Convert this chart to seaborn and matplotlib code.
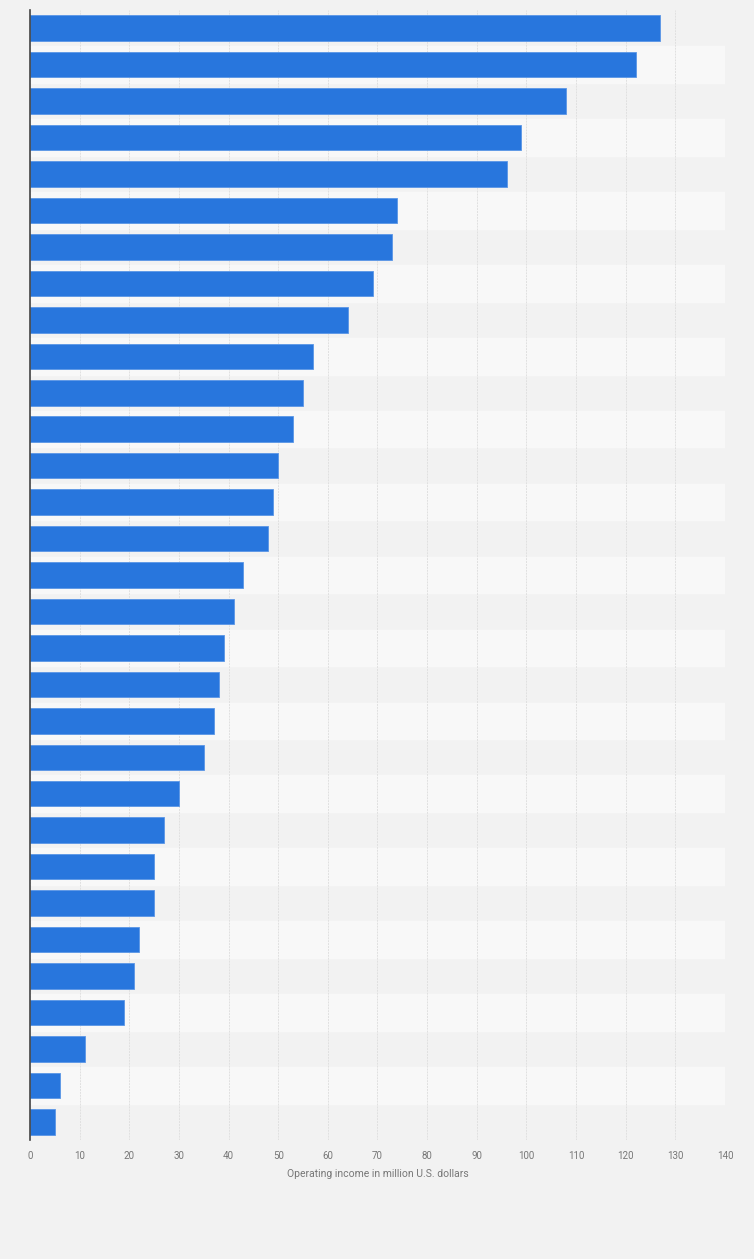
import seaborn as sns
import matplotlib.pyplot as plt
import pandas as pd
import numpy as np

sns.set_style("white")
plt.rcParams['font.family'] = ['Roboto', 'DejaVu Sans']

ranks = [str(i) for i in range(1, 32)]
income = [127, 122, 108, 99, 96, 74, 73, 69, 64, 57, 55, 53, 50, 49, 48,
          43, 41, 39, 38, 37, 35, 30, 27, 25, 25, 22, 21, 19, 11, 6, 5]
xticks = list(range(0, 150, 10))

df = pd.DataFrame({'rank': ranks, 'income': income})

fig = plt.figure(figsize=(7.54, 12.59), dpi=100)
fig.patch.set_facecolor('#f2f2f2')
ax = fig.add_axes([30 / 754, 1 - 1140 / 1259, 695 / 754, 1130 / 1259])
ax.set_facecolor('#f2f2f2')

for i in range(len(ranks)):
    if i % 2 == 1:
        ax.axhspan(i - 0.5, i + 0.5, color='#f8f8f8', zorder=0)

sns.barplot(data=df, x='income', y='rank', color='#2876dd', width=0.7,
            saturation=1, edgecolor='#5a96e6', linewidth=0.6, ax=ax, zorder=3)

ax.set_xlim(0, 140)
ax.set_ylim(len(ranks) - 0.5, -0.5)
ax.set_xticks(xticks)
ax.set_xticklabels([str(t) for t in xticks], fontsize=7, color='#777777')
ax.set_yticks([])
ax.set_ylabel('')
ax.set_xlabel('Operating income in million U.S. dollars', fontsize=7.5,
              color='#777777', labelpad=6)
ax.tick_params(axis='x', length=0, pad=8)
ax.xaxis.grid(True, color='#e0e0e0', linestyle=(0, (2, 1)), linewidth=0.7, zorder=1)
ax.set_axisbelow(True)

for side in ['top', 'right', 'bottom']:
    ax.spines[side].set_visible(False)
ax.spines['left'].set_color('#444444')
ax.spines['left'].set_linewidth(1.2)
ax.spines['left'].set_zorder(5)

fig.savefig('out.png', dpi=100, facecolor=fig.get_facecolor())
